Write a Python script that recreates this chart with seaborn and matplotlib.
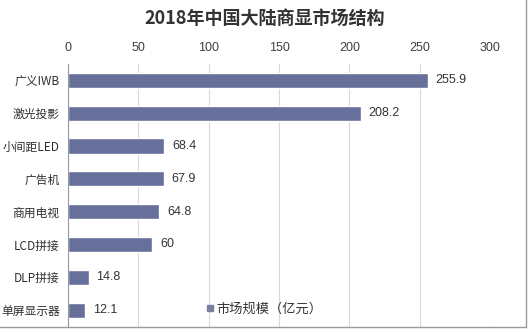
import matplotlib
matplotlib.use("Agg")
import matplotlib.pyplot as plt
import seaborn as sns
import pandas as pd
from matplotlib.lines import Line2D

categories = ["广义IWB", "激光投影", "小间距LED", "广告机", "商用电视", "LCD拼接", "DLP拼接", "单屏显示器"]
values = [255.9, 208.2, 68.4, 67.9, 64.8, 60, 14.8, 12.1]
series_name = "市场规模（亿元）"
title = "2018年中国大陆商显市场结构"
xticks = [0, 50, 100, 150, 200, 250, 300]

sns.set_theme(style="white")
plt.rcParams['font.family'] = ['Noto Sans CJK SC', 'DejaVu Sans']

df = pd.DataFrame({"cat": categories, "val": values})
bar_color = "#66709a"

fig = plt.figure(figsize=(5.30, 3.32), dpi=100)
ax = fig.add_axes([68/530, 1-326.5/332, (490-68)/530, (326.5-64)/332])

sns.barplot(data=df, x="val", y="cat", ax=ax, color=bar_color, width=0.46,
            saturation=1, orient="h")

ax.set_xlim(0, 300)
ax.set_ylim(7.5, -0.5)
ax.set_xticks(xticks)
ax.xaxis.tick_top()
ax.tick_params(axis="x", length=0, pad=7, labelsize=9, labelcolor="#404040")
for lbl in ax.get_xticklabels():
    lbl.set_fontfamily(["Liberation Sans", "DejaVu Sans"])
ax.tick_params(axis="y", length=0, pad=6, labelsize=8.5, labelcolor="#303030")
ax.set_xlabel("")
ax.set_ylabel("")
ax.grid(axis="x", color="#d9d9d9", linewidth=0.8)
ax.set_axisbelow(True)
for s in ["top", "right", "bottom"]:
    ax.spines[s].set_visible(False)
ax.spines["left"].set_color("#9a9a9a")
ax.spines["left"].set_linewidth(0.8)

for i, v in enumerate(values):
    ax.text(v + 5.5, i, f"{v:g}", va="center", ha="left", fontsize=9,
            color="#333333", family=["Liberation Sans", "DejaVu Sans"])

fig.text(0.5, 1-18/332, title, ha="center", va="center", fontsize=13,
         fontweight="bold", color="#333333")

handle = Line2D([], [], marker="s", linestyle="none", markersize=5,
                color="#7a7f9c")
leg = ax.legend([handle], [series_name], loc="center left",
                bbox_to_anchor=((198-68)/422, (326.5-309)/262.5),
                frameon=False, fontsize=9.5, handletextpad=0.1,
                handlelength=0.8, borderpad=0, labelcolor="#333333")

# chart frame (right and bottom edges)
fig.add_artist(Line2D([526/530, 526/530], [1-327/332, 1.0], transform=fig.transFigure,
                      color="#9a9a9a", linewidth=1))
fig.add_artist(Line2D([0, 526/530], [1-327/332, 1-327/332], transform=fig.transFigure,
                      color="#9a9a9a", linewidth=1))

fig.savefig("out.png", dpi=100)
